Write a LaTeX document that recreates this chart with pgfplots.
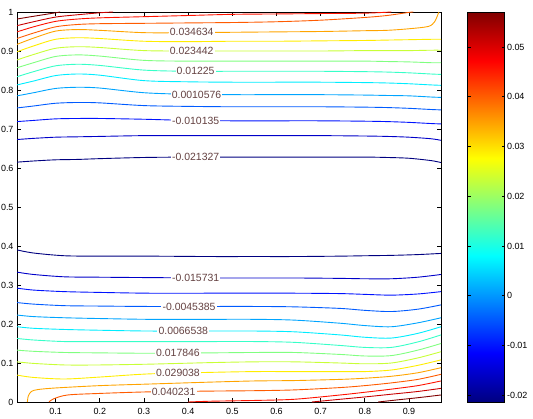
\documentclass[border=0pt]{standalone}
\usepackage{pgfplots}
\usepackage{pgfplotstable}
\pgfplotsset{compat=1.18}
\usepackage{fontspec}
\setmainfont{Liberation Sans}

\definecolor{c0}{RGB}{0,0,128}
\definecolor{c1}{RGB}{0,0,201}
\definecolor{c2}{RGB}{0,18,255}
\definecolor{c3}{RGB}{0,91,255}
\definecolor{c4}{RGB}{0,164,255}
\definecolor{c5}{RGB}{0,237,255}
\definecolor{c6}{RGB}{55,255,200}
\definecolor{c7}{RGB}{128,255,128}
\definecolor{c8}{RGB}{200,255,55}
\definecolor{c9}{RGB}{255,237,0}
\definecolor{c10}{RGB}{255,164,0}
\definecolor{c11}{RGB}{255,91,0}
\definecolor{c12}{RGB}{255,18,0}
\definecolor{c13}{RGB}{200,0,0}
\definecolor{c14}{RGB}{128,0,0}
\definecolor{labcol}{RGB}{100,65,65}

% upper contour lines, levels 1..10
\pgfplotstableread{
x      a     b     c     d     e     f     g     h     i     j
0.0125 0.615 0.673 0.719 0.754 0.785 0.813 0.834 0.857 0.877 0.898
0.05   0.618 0.676 0.722 0.759 0.793 0.823 0.847 0.870 0.891 0.913
0.1    0.621 0.679 0.726 0.766 0.804 0.837 0.862 0.886 0.907 0.930
0.15   0.622 0.680 0.727 0.768 0.807 0.841 0.866 0.890 0.911 0.934
0.2    0.624 0.681 0.727 0.767 0.805 0.838 0.863 0.887 0.909 0.932
0.3    0.627 0.683 0.725 0.760 0.793 0.824 0.851 0.876 0.901 0.925
0.4    0.628 0.683 0.722 0.758 0.789 0.821 0.848 0.874 0.900 0.924
0.5    0.628 0.683 0.721 0.757 0.788 0.820 0.848 0.874 0.900 0.925
0.6    0.628 0.683 0.721 0.757 0.788 0.820 0.848 0.874 0.900 0.925
0.7    0.628 0.683 0.721 0.757 0.788 0.820 0.848 0.874 0.900 0.926
0.8    0.628 0.682 0.720 0.756 0.787 0.819 0.847 0.874 0.901 0.927
0.85   0.627 0.681 0.719 0.755 0.786 0.818 0.846 0.873 0.901 0.928
0.9    0.625 0.679 0.717 0.753 0.785 0.816 0.844 0.872 0.901 0.929
0.95   0.619 0.675 0.714 0.750 0.782 0.813 0.841 0.870 0.902 0.930
0.9725 0.614 0.671 0.713 0.749 0.781 0.812 0.840 0.870 0.902 0.930
}\uppertab

% lower contour lines, levels 1..10
\pgfplotstableread{
x      a     b     c     d     e     f     g     h     i     j
0.0125 0.390 0.333 0.292 0.255 0.223 0.193 0.163 0.133 0.103 0.069
0.05   0.382 0.327 0.287 0.251 0.219 0.189 0.159 0.130 0.099 0.063
0.12   0.375 0.321 0.283 0.247 0.216 0.186 0.155 0.127 0.095 0.059
0.2    0.374 0.320 0.281 0.246 0.214 0.184 0.155 0.126 0.095 0.064
0.31   0.374 0.319 0.279 0.245 0.212 0.182 0.155 0.125 0.097 0.072
0.45   0.373 0.318 0.279 0.245 0.212 0.182 0.155 0.126 0.101 0.076
0.55   0.373 0.318 0.279 0.245 0.212 0.182 0.155 0.127 0.103 0.078
0.64   0.373 0.318 0.279 0.244 0.210 0.180 0.153 0.127 0.103 0.078
0.744  0.374 0.317 0.278 0.240 0.202 0.172 0.145 0.122 0.100 0.078
0.80   0.375 0.316 0.276 0.235 0.196 0.166 0.140 0.118 0.098 0.078
0.86   0.376 0.316 0.274 0.232 0.193 0.164 0.140 0.119 0.100 0.082
0.92   0.378 0.320 0.277 0.238 0.203 0.176 0.154 0.133 0.113 0.094
0.9725 0.381 0.327 0.283 0.249 0.216 0.193 0.172 0.150 0.129 0.108
}\lowertab

\begin{document}
\begin{tikzpicture}[x=1bp,y=1bp]
\path[use as bounding box] (-17,-16) rectangle (516,402);
\begin{axis}[
  at={(0,0)}, anchor=south west,
  width=424bp, height=390bp, scale only axis,
  xmin=0.0125, xmax=0.9725, ymin=0, ymax=1,
  xtick={0.1,0.2,0.3,0.4,0.5,0.6,0.7,0.8,0.9},
  xticklabels={0.1,0.2,0.3,0.4,0.5,0.6,0.7,0.8,0.9},
  ytick={0,0.1,0.2,0.3,0.4,0.5,0.6,0.7,0.8,0.9,1},
  yticklabels={0,0.1,0.2,0.3,0.4,0.5,0.6,0.7,0.8,0.9,1},
  tick align=inside, major tick length=4bp,
  tick style={black, line width=0.8bp},
  axis line style={line width=0.9bp},
  tick label style={font=\fontsize{9}{10}\selectfont},
  xticklabel style={yshift=-3bp},
  point meta min=-0.021327, point meta max=0.057019,
  colormap/jet,
  colorbar,
  colorbar/width=37bp,
  colorbar style={
    at={(parent axis.north east)}, anchor=north west, xshift=18bp,
    width=37bp,
    scaled y ticks=false,
    ytick={-0.02,-0.01,0,0.01,0.02,0.03,0.04,0.05},
    yticklabels={-0.02,-0.01,0,0.01,0.02,0.03,0.04,0.05},
    tick align=inside, major tick length=3bp,
    yticklabel style={font=\fontsize{9}{10}\selectfont, xshift=-1bp},
    axis line style={line width=0.6bp},
  },
  every axis plot/.append style={line width=0.9bp, smooth, tension=0.5},
]
% ---- upper half
\addplot[c0]  table[x=x,y=a] {\uppertab};
\addplot[c1]  table[x=x,y=b] {\uppertab};
\addplot[c2]  table[x=x,y=c] {\uppertab};
\addplot[c3]  table[x=x,y=d] {\uppertab};
\addplot[c4]  table[x=x,y=e] {\uppertab};
\addplot[c5]  table[x=x,y=f] {\uppertab};
\addplot[c6]  table[x=x,y=g] {\uppertab};
\addplot[c7]  table[x=x,y=h] {\uppertab};
\addplot[c8]  table[x=x,y=i] {\uppertab};
\addplot[c9]  table[x=x,y=j] {\uppertab};
\addplot[c10] coordinates {(0.0125,0.917) (0.05,0.933) (0.1,0.951) (0.15,0.955) (0.2,0.953) (0.3,0.947) (0.4,0.947) (0.5,0.948) (0.6,0.949) (0.7,0.950) (0.8,0.952) (0.85,0.953) (0.9,0.957) (0.944,0.963) (0.958,0.975) (0.966,0.995) (0.968,1.0)};
\addplot[c11] coordinates {(0.0125,0.932) (0.05,0.946) (0.1,0.962) (0.15,0.968) (0.2,0.970) (0.3,0.971) (0.4,0.972) (0.5,0.973) (0.6,0.975) (0.7,0.979) (0.8,0.986) (0.85,0.991) (0.9,0.999) (0.91,1.0)};
\addplot[c12] coordinates {(0.0125,0.949) (0.05,0.962) (0.1,0.976) (0.15,0.982) (0.2,0.985) (0.3,0.988) (0.4,0.991) (0.5,0.994) (0.6,0.995) (0.7,0.996) (0.8,0.997) (0.86,1.0)};
\addplot[c13] coordinates {(0.0125,0.965) (0.05,0.975) (0.1,0.987) (0.15,0.993) (0.2,0.998) (0.23,1.0)};
\addplot[c14] coordinates {(0.0125,0.982) (0.05,0.989) (0.1,0.998) (0.11,1.0)};
% ---- lower half
\addplot[c0]  table[x=x,y=a] {\lowertab};
\addplot[c1]  table[x=x,y=b] {\lowertab};
\addplot[c2]  table[x=x,y=c] {\lowertab};
\addplot[c3]  table[x=x,y=d] {\lowertab};
\addplot[c4]  table[x=x,y=e] {\lowertab};
\addplot[c5]  table[x=x,y=f] {\lowertab};
\addplot[c6]  table[x=x,y=g] {\lowertab};
\addplot[c7]  table[x=x,y=h] {\lowertab};
\addplot[c8]  table[x=x,y=i] {\lowertab};
\addplot[c9]  table[x=x,y=j] {\lowertab};
\addplot[c10] coordinates {(0.036,0) (0.038,0.015) (0.045,0.027) (0.06,0.032) (0.1,0.036) (0.2,0.042) (0.31,0.046) (0.45,0.051) (0.55,0.054) (0.64,0.055) (0.744,0.058) (0.80,0.061) (0.86,0.066) (0.92,0.075) (0.9725,0.088)};
\addplot[c11] coordinates {(0.085,0) (0.095,0.008) (0.127,0.018) (0.2,0.022) (0.31,0.026) (0.45,0.028) (0.55,0.029) (0.64,0.031) (0.744,0.037) (0.80,0.042) (0.86,0.049) (0.92,0.058) (0.9725,0.071)};
\addplot[c12] coordinates {(0.40,0) (0.45,0.002) (0.55,0.004) (0.64,0.007) (0.744,0.018) (0.80,0.025) (0.86,0.033) (0.92,0.042) (0.9725,0.054)};
\addplot[c13] coordinates {(0.68,0) (0.744,0.007) (0.80,0.013) (0.86,0.020) (0.92,0.027) (0.9725,0.035)};
\addplot[c14] coordinates {(0.83,0) (0.87,0.005) (0.92,0.011) (0.9725,0.018)};
% ---- contour labels
\begin{scope}[every node/.style={fill=white, inner sep=1.2bp, text=labcol, font=\fontsize{10.5}{12}\selectfont}]
\node at (axis cs:0.408,0.949) {0.034634};
\node at (axis cs:0.408,0.901) {0.023442};
\node at (axis cs:0.417,0.848) {0.01225};
\node at (axis cs:0.419,0.788) {0.0010576};
\node at (axis cs:0.417,0.721) {-0.010135};
\node at (axis cs:0.417,0.628) {-0.021327};
\node at (axis cs:0.417,0.319) {-0.015731};
\node at (axis cs:0.402,0.245) {-0.0045385};
\node at (axis cs:0.389,0.182) {0.0066538};
\node at (axis cs:0.377,0.125) {0.017846};
\node at (axis cs:0.377,0.074) {0.029038};
\node at (axis cs:0.367,0.027) {0.040231};
\end{scope}
\end{axis}
\end{tikzpicture}
\end{document}
